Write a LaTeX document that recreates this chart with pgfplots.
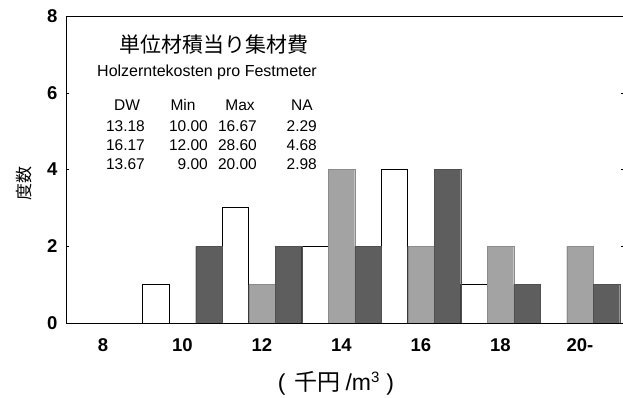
\documentclass[border=0pt]{standalone}
\usepackage{fontspec}
\setmainfont{Liberation Sans}
\newfontfamily\cjk{Noto Sans CJK JP}
\usepackage{pgfplots}
\pgfplotsset{compat=1.18}
\definecolor{lightbar}{gray}{0.64}
\definecolor{darkbar}{gray}{0.37}
\begin{document}
\begin{tikzpicture}[x=1bp,y=1bp]
\useasboundingbox (0,0) rectangle (623,397);
\begin{axis}[
  at={(66bp,74bp)}, anchor=south west,
  scale only axis, width=557.7bp, height=307bp,
  xmin=7.07, xmax=21.1, ymin=0, ymax=8,
  xtick={8,10,12,14,16,18,20},
  xticklabels={8,10,12,14,16,18,20-},
  ytick={0,2,4,6,8},
  tick align=inside,
  x tick style={draw=none},
  y tick style={black, thin},
  major tick length=3bp,
  axis line style={black, thin},
  /pgf/number format/assume math mode=true,
  ticklabel style={font=\fontsize{18.5bp}{20bp}\selectfont\bfseries},
  xticklabel style={anchor=north, text height=13.5bp, text depth=0bp, inner sep=0bp, yshift=-12bp},
  yticklabel style={anchor=east, xshift=-5bp},
  ybar, bar width=0.6667, bar shift=0,
  clip=true,
]
% white series
\addplot[draw=black, fill=white, line width=0.8bp] coordinates {
 (7.3333,0) (9.3333,1) (11.3333,3) (13.3333,2) (15.3333,4) (17.3333,1) (19.3333,0)};
% light gray series
\addplot[draw=lightbar!85!black, fill=lightbar, line width=0.4bp] coordinates {
 (8,0) (10,0) (12,1) (14,4) (16,2) (18,2) (20,2)};
% dark gray series
\addplot[draw=darkbar!85!black, fill=darkbar, line width=0.4bp] coordinates {
 (8.6667,0) (10.6667,2) (12.6667,2) (14.6667,2) (16.6667,4) (18.6667,1) (20.6667,1)};
\draw[black, line width=0.8bp] (axis cs:7.07,0) -- (axis cs:21.1,0);
\end{axis}
% texts
\node[font=\cjk\fontsize{21bp}{23bp}\selectfont] at (214,352) {単位材積当り集材費};
\node[anchor=west, inner sep=0, font=\fontsize{16bp}{18bp}\selectfont] at (97,325) {Holzerntekosten pro Festmeter};
\begin{scope}[every node/.style={inner sep=0, font=\fontsize{15.5bp}{18bp}\selectfont}]
\node at (127,292) {DW};
\node at (183,292) {Min};
\node at (240,292) {Max};
\node at (302,292) {NA};
\node[anchor=east] at (145,271) {13.18};
\node[anchor=east] at (208,271) {10.00};
\node[anchor=east] at (257,271) {16.67};
\node[anchor=east] at (317,271) {2.29};
\node[anchor=east] at (145,252) {16.17};
\node[anchor=east] at (208,252) {12.00};
\node[anchor=east] at (257,252) {28.60};
\node[anchor=east] at (317,252) {4.68};
\node[anchor=east] at (145,233) {13.67};
\node[anchor=east] at (208,233) {9.00};
\node[anchor=east] at (257,233) {20.00};
\node[anchor=east] at (317,233) {2.98};
\end{scope}
\node[rotate=90, font=\cjk\fontsize{17bp}{19bp}\selectfont] at (24,214) {度数};
\node[inner sep=0, font=\fontsize{23bp}{25bp}\selectfont] at (336,14) {(\hspace{9bp}{\cjk 千円}\hspace{5bp}/m\raisebox{8bp}{\fontsize{15bp}{17bp}\selectfont 3}\hspace{7bp})};
\end{tikzpicture}
\end{document}
